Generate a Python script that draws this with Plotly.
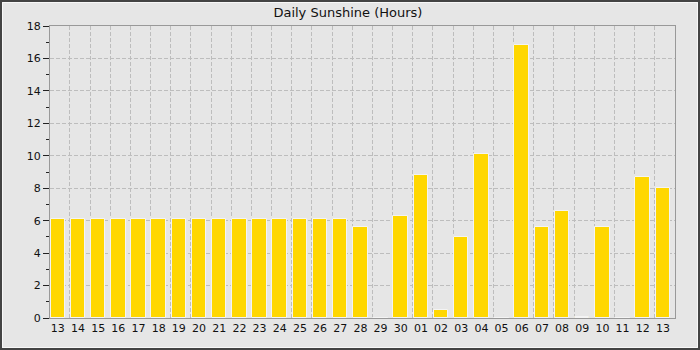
import plotly.graph_objects as go

days = ["13", "14", "15", "16", "17", "18", "19", "20", "21", "22", "23", "24", "25", "26", "27",
        "28", "29", "30", "01", "02", "03", "04", "05", "06", "07", "08", "09", "10", "11", "12", "13"]
sunshine = [6.1, 6.1, 6.1, 6.1, 6.1, 6.1, 6.1, 6.1, 6.1, 6.1, 6.1, 6.1, 6.1, 6.1, 6.1,
            5.6, 0.0, 6.3, 8.8, 0.5, 5.0, 10.1, 0.0, 16.8, 5.6, 6.6, 0.08, 5.6, 0.0, 8.7, 8.0]
title_text = "Daily Sunshine (Hours)"

xpos = list(range(len(days)))

fig = go.Figure()
fig.add_trace(go.Bar(
    x=xpos, y=sunshine, width=0.72,
    marker=dict(color="#FFD700", line=dict(color="#f4f4f4", width=1)),
    hoverinfo="skip",
))

L, R, T, B = 50, 25, 26, 32
W, H = 700, 350
pw, ph = W - L - R, H - T - B

grid_dash = "4px,2px"
grid_col = "#bdbdbd"

fig.update_layout(
    width=W, height=H,
    margin=dict(l=L, r=R, t=T, b=B, pad=0),
    paper_bgcolor="#e6e6e6",
    plot_bgcolor="#e6e6e6",
    showlegend=False,
    bargap=0,
    font=dict(family="DejaVu Sans", size=11, color="#111111"),
    title=dict(text=title_text, x=0.497, xanchor="center", y=1 - 12 / H, yanchor="middle",
               font=dict(family="DejaVu Sans", size=13, color="#111111")),
    xaxis=dict(
        range=[-0.39, 30.6],
        tickmode="array", tickvals=xpos, ticktext=days,
        showgrid=False, zeroline=False,
        showline=True, linecolor="#999999", linewidth=1, mirror=True,
        ticks="", tickfont=dict(size=11, color="#111111"),
        minor=dict(tick0=0.6, dtick=1, showgrid=True, gridcolor=grid_col,
                   griddash=grid_dash, gridwidth=1, ticks=""),
    ),
    yaxis=dict(
        range=[0, 18], dtick=2, tick0=0,
        showgrid=True, gridcolor=grid_col, griddash=grid_dash, gridwidth=1,
        zeroline=False,
        showline=True, linecolor="#999999", linewidth=1, mirror=True,
        ticks="outside", ticklen=6, tickcolor="#222222", tickwidth=1,
        tickfont=dict(size=11, color="#111111"),
        minor=dict(dtick=1, ticks="outside", ticklen=3, tickcolor="#222222", showgrid=False),
    ),
)

# outer frame (dark border with light inner line)
x0, x1 = -L / pw, (W - L) / pw
y0, y1 = -B / ph, (H - B) / ph
fig.add_shape(type="rect", xref="paper", yref="paper",
              x0=x0 + 2.5 / pw, x1=x1 - 2.5 / pw, y0=y0 + 2.5 / ph, y1=y1 - 2.5 / ph,
              line=dict(color="#f8f8f8", width=1), layer="below")
fig.add_shape(type="rect", xref="paper", yref="paper",
              x0=x0 + 1 / pw, x1=x1 - 1 / pw, y0=y0 + 1 / ph, y1=y1 - 1 / ph,
              line=dict(color="#444444", width=2), layer="above")

fig.write_html("out.html")
